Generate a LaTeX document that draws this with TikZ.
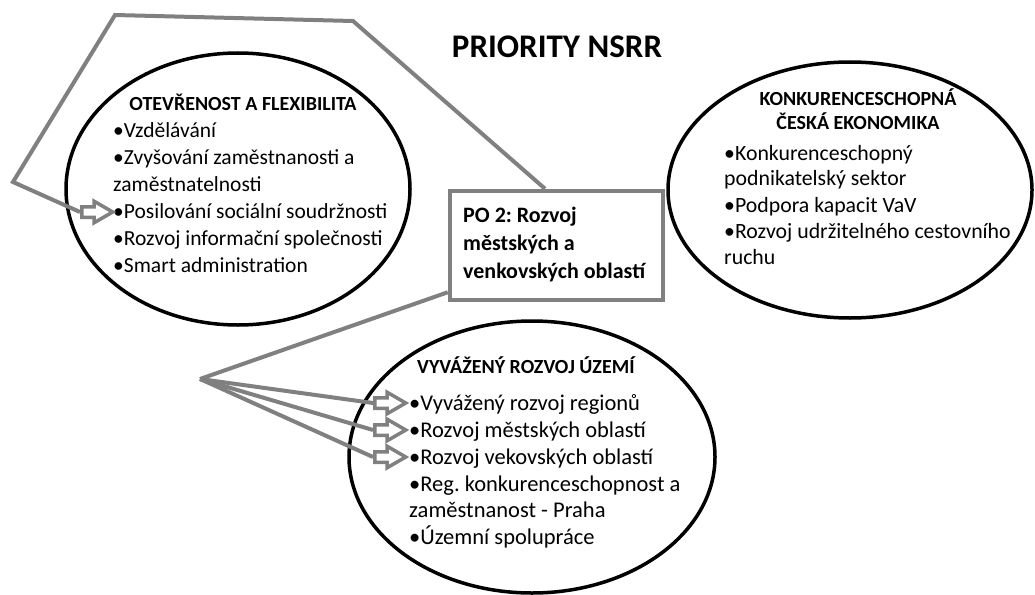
\documentclass[tikz,border=0pt]{standalone}
\usepackage{fontspec}
\setmainfont{Carlito}
\usetikzlibrary{shapes.geometric,shapes.arrows}

\definecolor{linkgray}{RGB}{128,128,128}
\frenchspacing

\tikzset{
  oval/.style={ellipse,draw=black,line width=3.5pt,inner sep=0pt},
  pobox/.style={rectangle,draw=linkgray,line width=4.5pt,inner sep=0pt},
  link/.style={draw=linkgray,line width=4pt,line join=miter},
  blockarr/.style={single arrow,draw=linkgray,fill=white,line width=3.5pt,
    inner sep=3.5pt,minimum width=18pt,minimum height=31pt,
    single arrow head extend=5.5pt,single arrow tip angle=60},
  item/.style={anchor=base west,inner sep=0pt,font=\fontsize{22.5}{27}\selectfont},
  poitem/.style={item,font=\bfseries\fontsize{22}{27}\selectfont},
  head/.style={inner sep=0pt,font=\bfseries\fontsize{20}{24}\selectfont},
}

\begin{document}
\begin{tikzpicture}[x=1pt,y=-1pt]
\useasboundingbox (0,0) rectangle (1035,594);

\node[inner sep=0pt,anchor=base,font=\bfseries\fontsize{33}{40}\selectfont] (title) at (557,57) {PRIORITY NSRR};

% ellipses
\node[oval,minimum width=344pt,minimum height=272pt] (otev) at (238,189) {};
\node[oval,minimum width=364pt,minimum height=256pt] (konk) at (850,190) {};
\node[oval,minimum width=366pt,minimum height=272pt] (uzem) at (532,457) {};

\node[head,anchor=base] (otevh) at (243,110) {OTEVŘENOST A FLEXIBILITA};
\node[item,font=\fontsize{21.5}{27}\selectfont] (ot1) at (113,137) {•Vzdělávání};
\node[item,font=\fontsize{21.5}{27}\selectfont] (ot2) at (113,164) {•Zvyšování zaměstnanosti a};
\node[item,font=\fontsize{21.5}{27}\selectfont] (ot3) at (113,191) {zaměstnatelnosti};
\node[item,font=\fontsize{21.5}{27}\selectfont] (ot4) at (113,218) {•Posilování sociální soudržnosti};
\node[item,font=\fontsize{21.5}{27}\selectfont] (ot5) at (113,245) {•Rozvoj informační společnosti};
\node[item,font=\fontsize{21.5}{27}\selectfont] (ot6) at (113,272) {•Smart administration};

\node[head,anchor=base] (konkh1) at (858,105) {KONKURENCESCHOPNÁ};
\node[head,anchor=base] (konkh2) at (858,129) {ČESKÁ EKONOMIKA};
\node[item,font=\fontsize{21.8}{27}\selectfont] (ko1) at (724,160) {•Konkurenceschopný};
\node[item,font=\fontsize{21.8}{27}\selectfont] (ko2) at (724,185) {podnikatelský sektor};
\node[item,font=\fontsize{21.8}{27}\selectfont] (ko3) at (724,212) {•Podpora kapacit VaV};
\node[item,font=\fontsize{21.8}{27}\selectfont] (ko4) at (724,238) {•Rozvoj udržitelného cestovního};
\node[item,font=\fontsize{21.8}{27}\selectfont] (ko5) at (724,264) {ruchu};

\node[head,anchor=base west] (uzemh) at (417,373) {VYVÁŽENÝ ROZVOJ ÚZEMÍ};
\node[item] (uz1) at (409,410) {•Vyvážený rozvoj regionů};
\node[item] (uz2) at (409,437) {•Rozvoj městských oblastí};
\node[item] (uz3) at (409,464) {•Rozvoj vekovských oblastí};
\node[item] (uz4) at (409,491) {•Reg. konkurenceschopnost a};
\node[item] (uz5) at (409,517) {zaměstnanost - Praha};
\node[item] (uz6) at (409,544) {•Územní spolupráce};

% PO 2 box
\node[pobox,minimum width=213pt,minimum height=109pt] (po) at (556.5,245.5) {};
\node[poitem] (po1) at (463,222) {PO 2: Rozvoj};
\node[poitem] (po2) at (463,250) {městských a};
\node[poitem] (po3) at (463,278) {venkovských oblastí};

% block arrows
\node[blockarr,anchor=tail] (a0) at (80,212) {};
\node[blockarr,anchor=tail] (a1) at (373,403) {};
\node[blockarr,anchor=tail] (a2) at (373,430) {};
\node[blockarr,anchor=tail] (a3) at (373,457) {};

% connectors
\coordinate (k1) at (353,21);
\coordinate (k2) at (115,15);
\coordinate (k3) at (13,182);
\coordinate (fan) at (200,379);
\draw[link] ([xshift=-11.5pt]po.north) -- (k1) -- (k2) -- (k3) -- (a0.tail);
\draw[link] ([yshift=10pt]po.south west) -- (fan);
\draw[link] (fan) -- (a1.tail);
\draw[link] (fan) -- (a2.tail);
\draw[link] (fan) -- (a3.tail);
\end{tikzpicture}
\end{document}
